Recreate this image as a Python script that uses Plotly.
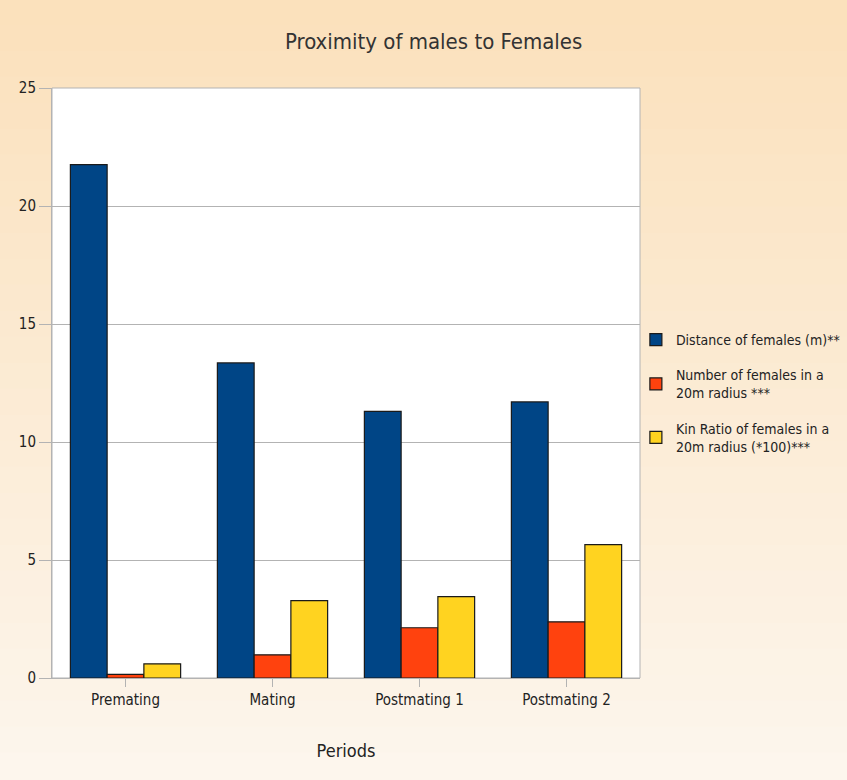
import plotly.graph_objects as go

categories = ["Premating", "Mating", "Postmating 1", "Postmating 2"]
series_names = [
    "Distance of females (m)**",
    "Number of females in a<br>20m radius ***",
    "Kin Ratio of females in a<br>20m radius (*100)***",
]
distance = [21.75, 13.35, 11.3, 11.7]
number_females = [0.15, 0.98, 2.13, 2.38]
kin_ratio = [0.6, 3.28, 3.45, 5.65]
y_ticks = [0, 5, 10, 15, 20, 25]

colors = ["#004586", "#FF420E", "#FFD320"]
FONT = "Liberation Sans Narrow, Arial Narrow, DejaVu Sans Condensed, Liberation Sans, sans-serif"

fig = go.Figure()
for i, (name, vals, col) in enumerate(zip(series_names, [distance, number_females, kin_ratio], colors)):
    fig.add_trace(go.Bar(
        x=categories, y=vals, name=name, legendgroup="g%d" % i,
        marker=dict(color=col, line=dict(color="#1a1a1a", width=1.2)),
    ))

# soft peach gradient background (decorative)
shapes = []
n = 30
top = (251, 225, 188)
bot = (253, 246, 237)
for i in range(n):
    t = i / (n - 1)
    c = tuple(int(top[k] + (bot[k] - top[k]) * t) for k in range(3))
    y0 = 1 + 88 / 590 - (i / n) * (780 / 590)
    y1 = 1 + 88 / 590 - ((i + 1) / n) * (780 / 590)
    shapes.append(dict(type="rect", xref="paper", yref="paper",
                       x0=-60 / 588, x1=810 / 588, y0=y1, y1=y0 + 0.002,
                       fillcolor="rgb(%d,%d,%d)" % c, line=dict(width=0), layer="below"))
shapes.append(dict(type="rect", xref="paper", yref="paper", x0=0, x1=1, y0=0, y1=1,
                   fillcolor="white", line=dict(color="#b3b3b3", width=1), layer="below"))

fig.update_layout(
    width=847, height=780,
    margin=dict(l=52, r=207, t=88, b=102, autoexpand=False),
    paper_bgcolor="#fcecd8",
    plot_bgcolor="rgba(0,0,0,0)",
    shapes=shapes,
    barmode="group",
    bargap=0.25,
    bargroupgap=0,
    font=dict(family=FONT, size=15, color="#222222"),
    title=dict(text="Proximity of males to Females", x=0.512, xanchor="center",
               y=0.947, yanchor="middle",
               font=dict(family=FONT, size=22, color="#333333")),
    xaxis=dict(
        title=dict(text="Periods", font=dict(size=18, color="#222222"), standoff=36),
        showline=True, linecolor="#b3b3b3", linewidth=1,
        ticks="outside", ticklen=8, tickcolor="#b3b3b3",
        tickfont=dict(size=15, color="#222222"),
    ),
    yaxis=dict(
        range=[0, 25], tickvals=y_ticks,
        showgrid=True, gridcolor="#b3b3b3", gridwidth=1,
        showline=True, linecolor="#b3b3b3", linewidth=1,
        ticks="outside", ticklen=12, tickcolor="#b3b3b3",
        tickfont=dict(size=15, color="#222222"),
        zeroline=False,
    ),
    legend=dict(
        x=0.993, y=0.6, xanchor="left", yanchor="top",
        bgcolor="rgba(0,0,0,0)",
        font=dict(family=FONT, size=14, color="#222222"),
        itemwidth=30,
        tracegroupgap=14,
    ),
    showlegend=True,
)

fig.write_html("out.html")
